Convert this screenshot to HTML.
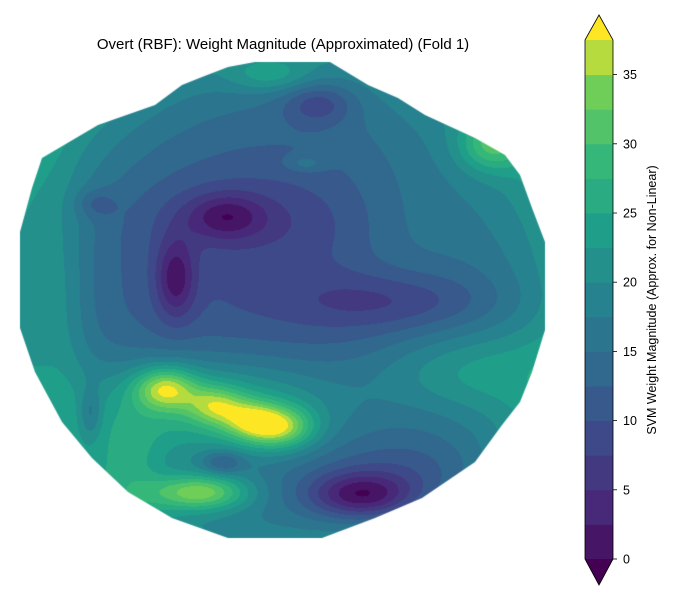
<!DOCTYPE html>
<html><head><meta charset="utf-8">
<style>
body{margin:0;background:#fff;width:700px;height:600px;overflow:hidden;font-family:"Liberation Sans",sans-serif}
#wrap{position:relative;width:700px;height:600px}
canvas,svg{position:absolute;left:0;top:0}
</style></head><body>
<div id="wrap">
<canvas id="c" width="700" height="600"></canvas>
<svg id="s" width="700" height="600"></svg>
</div>
<script>
// data
const levels=[0,2.5,5,7.5,10,12.5,15,17.5,20,22.5,25,27.5,30,32.5,35,37.5];
const tickValues=[0,5,10,15,20,25,30,35];
const srcX=[165,215,250,280,220,200,460,360,420,390,318,95,225,250,175,90,222,270,490,305,60,420,130,400];
const srcY=[388,405,420,427,408,492,370,495,480,300,103,203,216,220,278,413,462,75,145,163,300,210,470,250];
const srcAmp=[15.5,11,11,15.5,14,17,8,-13,-6,-5,-7,-4,-8,-3,-10,-6,-7,6,10,4,4,2.5,6,1.5];
const srcSx=[22,20,20,24,95,35,70,36,70,70,25,14,28,80,14,8,14,30,22,14,20,60,25,40];
const srcSy=[15,14,14,15,38,13,30,16,30,20,15,10,16,30,28,18,8,12,18,6,80,60,40,40];
const baseVal=10, rimAmp=11;
const headX=[42,98,155,182,202,228,255,330,368,398,425,475,505,520,532,545,545,532,520,502,475,422,375,322,228,172,128,92,62,35,20,20,32];
const headY=[158,125,105,85,77,67,62,62,85,98,115,138,155,175,208,242,330,372,402,425,462,498,518,538,538,518,492,458,422,372,328,232,188];
const cx=283, cy=300, R=265;

function field(x,y){
  const r=Math.hypot(x-cx,(y-cy)*1.05)/R;
  let v=baseVal+rimAmp*Math.pow(Math.min(r,1.2),3);
  for(let i=0;i<srcX.length;i++){
    const dx=(x-srcX[i])/srcSx[i], dy=(y-srcY[i])/srcSy[i];
    v+=srcAmp[i]*Math.exp(-0.5*(dx*dx+dy*dy));
  }
  return v;
}
const vir=["#440154","#482878","#3e4989","#31688e","#26828e","#1f9e89","#35b779","#6ece58","#fde725"];
function hx(h){return [1,3,5].map(i=>parseInt(h.substr(i,2),16));}
function viridis(t){t=Math.max(0,Math.min(1,t));const p=t*8,i=Math.min(7,Math.floor(p)),f=p-i;const a=hx(vir[i]),b=hx(vir[i+1]);return a.map((v,k)=>Math.round(v+(b[k]-v)*f));}
const nb=levels.length-1;
const bandCols=[];for(let i=0;i<nb;i++)bandCols.push(viridis((i+1)/(nb+1)));
const under=viridis(0), over=viridis(1);
function colFor(v){if(v<levels[0])return under;if(v>=levels[nb])return over;for(let i=0;i<nb;i++)if(v<levels[i+1])return bandCols[i];return over;}

const cv=document.getElementById('c'),ctx=cv.getContext('2d');
const img=ctx.createImageData(700,600);
for(let y=55;y<545;y++)for(let x=15;x<555;x++){const c=colFor(field(x,y));const o=(y*700+x)*4;img.data[o]=c[0];img.data[o+1]=c[1];img.data[o+2]=c[2];img.data[o+3]=255;}
const tmp=document.createElement('canvas');tmp.width=700;tmp.height=600;tmp.getContext('2d').putImageData(img,0,0);
ctx.save();ctx.beginPath();headX.forEach((x,i)=>i?ctx.lineTo(x,headY[i]):ctx.moveTo(x,headY[i]));ctx.closePath();ctx.clip();ctx.drawImage(tmp,0,0);ctx.restore();

// overlay
const NS="http://www.w3.org/2000/svg",svg=document.getElementById('s');
function el(t,a){const e=document.createElementNS(NS,t);for(const k in a)e.setAttribute(k,a[k]);svg.appendChild(e);return e;}
const cbX=585,cbW=28,cbTop=40,cbBot=559;
const yS=v=>cbBot-(v-levels[0])/(levels[nb]-levels[0])*(cbBot-cbTop);
const rgb=c=>`rgb(${c[0]},${c[1]},${c[2]})`;
for(let i=0;i<nb;i++){const r=el('rect',{x:cbX,y:yS(levels[i+1]),width:cbW,height:yS(levels[i])-yS(levels[i+1])+0.5,fill:rgb(bandCols[i])});

}
const ta=el('polygon',{points:`${cbX},${cbTop} ${cbX+cbW/2},15 ${cbX+cbW},${cbTop}`,fill:rgb(over)});


const ba=el('polygon',{points:`${cbX},${cbBot} ${cbX+cbW/2},585 ${cbX+cbW},${cbBot}`,fill:rgb(under)});


const ol=el('polygon',{points:`${cbX},${cbTop} ${cbX+cbW/2},15 ${cbX+cbW},${cbTop} ${cbX+cbW},${cbBot} ${cbX+cbW/2},585 ${cbX},${cbBot}`,fill:'none',stroke:'#000','stroke-width':0.8});


tickValues.forEach(v=>{const y=yS(v);
 const t=el('line',{x1:cbX+cbW,x2:cbX+cbW+4,y1:y,y2:y,stroke:'#000','stroke-width':0.8});
 
 
 const l=el('text',{x:cbX+cbW+10,y:y+4.5,'font-size':12.5,fill:'#000'});l.textContent=v;
 
 });
const lab=el('text',{x:0,y:0,'font-size':12.5,'text-anchor':'middle',transform:'translate(656,300) rotate(-90)'});lab.textContent='SVM Weight Magnitude (Approx. for Non-Linear)';


const title=el('text',{x:283,y:49,'font-size':15,'text-anchor':'middle'});title.textContent='Overt (RBF): Weight Magnitude (Approximated) (Fold 1)';


</script>
</body></html>
